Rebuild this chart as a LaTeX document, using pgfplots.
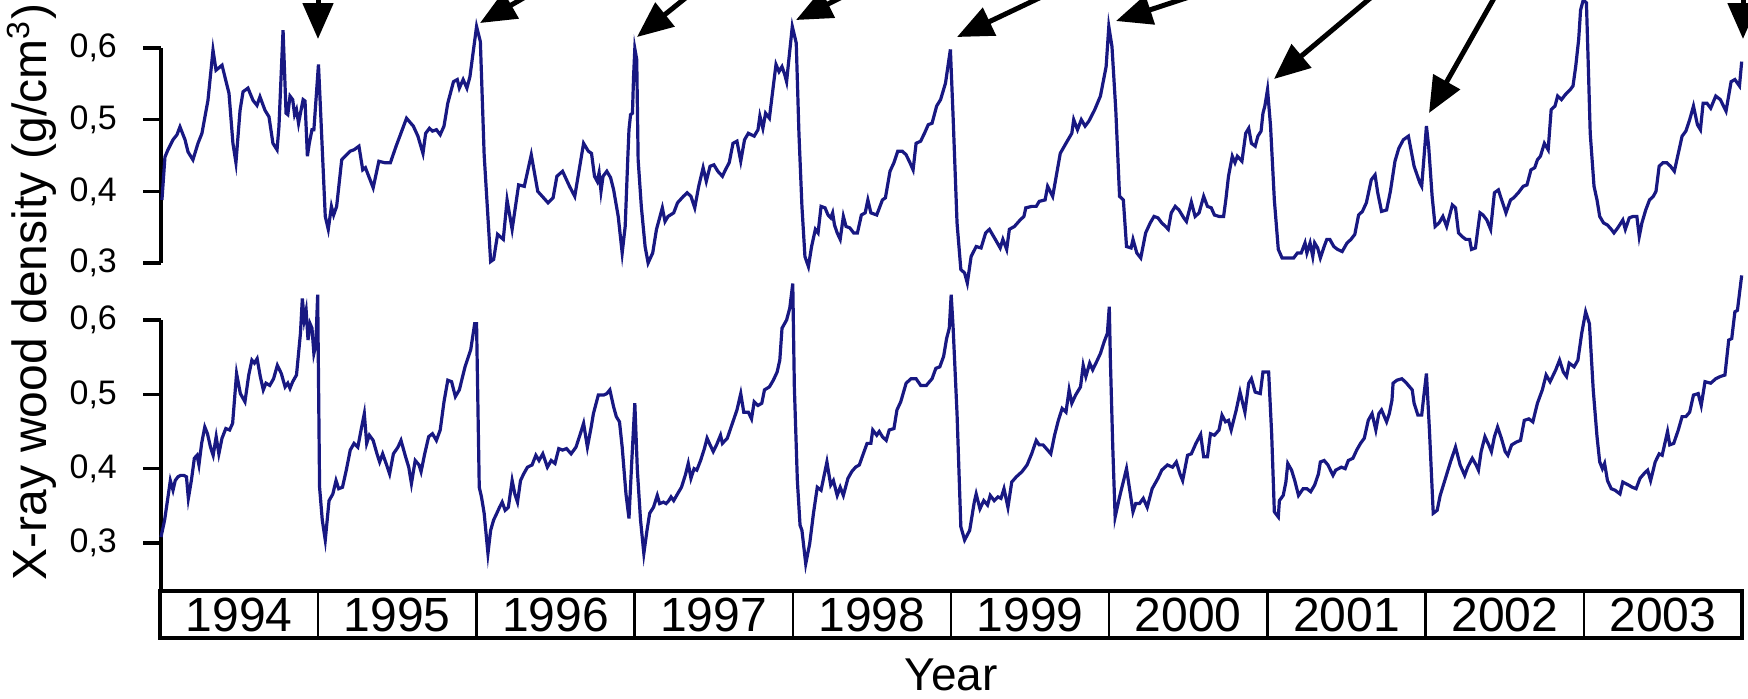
\documentclass[border=0pt]{standalone}
\usepackage{pgfplots}
\pgfplotsset{compat=1.18}
\usepackage{pgfplotstable}
\usepackage{fontspec}
\setmainfont{Liberation Sans}
\usetikzlibrary{arrows.meta}
\definecolor{navy}{RGB}{24,24,130}

\pgfplotstableread{
x y
1994.006 0.388
1994.025 0.448
1994.044 0.458
1994.076 0.472
1994.101 0.479
1994.120 0.490
1994.152 0.472
1994.171 0.455
1994.202 0.444
1994.234 0.467
1994.259 0.481
1994.297 0.527
1994.329 0.597
1994.348 0.569
1994.386 0.576
1994.430 0.537
1994.455 0.467
1994.474 0.440
1994.500 0.513
1994.519 0.539
1994.550 0.544
1994.582 0.527
1994.607 0.520
1994.626 0.532
1994.658 0.513
1994.683 0.504
1994.708 0.467
1994.734 0.458
1994.746 0.490
1994.772 0.625
1994.791 0.509
1994.802 0.507
1994.816 0.533
1994.833 0.528
1994.845 0.507
1994.857 0.514
1994.870 0.495
1994.882 0.509
1994.899 0.528
1994.911 0.526
1994.926 0.449
1994.938 0.467
1994.955 0.486
1994.967 0.486
1994.996 0.577
1995.010 0.509
1995.039 0.365
1995.058 0.347
1995.078 0.379
1995.092 0.367
1995.111 0.379
1995.143 0.444
1995.165 0.449
1995.196 0.456
1995.221 0.458
1995.252 0.463
1995.276 0.430
1995.293 0.433
1995.342 0.405
1995.378 0.442
1995.414 0.440
1995.451 0.440
1995.487 0.463
1995.553 0.502
1995.596 0.491
1995.625 0.477
1995.657 0.453
1995.674 0.481
1995.698 0.488
1995.717 0.484
1995.742 0.486
1995.766 0.479
1995.790 0.491
1995.814 0.523
1995.850 0.553
1995.874 0.556
1995.887 0.544
1995.911 0.556
1995.935 0.544
1995.954 0.560
1995.996 0.630
1996.020 0.609
1996.044 0.451
1996.085 0.302
1996.104 0.305
1996.129 0.340
1996.165 0.333
1996.189 0.388
1996.221 0.347
1996.262 0.409
1996.298 0.407
1996.342 0.451
1996.383 0.400
1996.448 0.384
1996.480 0.391
1996.504 0.421
1996.540 0.428
1996.584 0.407
1996.617 0.393
1996.673 0.467
1996.703 0.456
1996.723 0.453
1996.742 0.421
1996.759 0.414
1996.771 0.426
1996.783 0.400
1996.796 0.421
1996.820 0.428
1996.844 0.419
1996.863 0.402
1996.892 0.365
1996.917 0.314
1996.936 0.351
1996.953 0.449
1996.960 0.486
1996.970 0.507
1996.982 0.509
1996.989 0.560
1996.997 0.599
1997.009 0.584
1997.018 0.444
1997.038 0.379
1997.062 0.323
1997.081 0.300
1997.110 0.314
1997.134 0.347
1997.171 0.377
1997.188 0.358
1997.207 0.365
1997.243 0.370
1997.267 0.384
1997.304 0.393
1997.328 0.398
1997.352 0.393
1997.376 0.377
1997.401 0.407
1997.429 0.433
1997.449 0.414
1997.473 0.435
1997.497 0.437
1997.522 0.428
1997.551 0.421
1997.570 0.430
1997.594 0.440
1997.618 0.467
1997.643 0.470
1997.667 0.442
1997.691 0.472
1997.715 0.481
1997.752 0.477
1997.776 0.486
1997.788 0.505
1997.807 0.488
1997.824 0.509
1997.848 0.502
1997.873 0.547
1997.890 0.577
1997.909 0.567
1997.928 0.574
1997.945 0.563
1997.957 0.553
1997.969 0.579
1997.993 0.630
1998.018 0.607
1998.035 0.481
1998.054 0.379
1998.073 0.309
1998.095 0.295
1998.115 0.323
1998.139 0.347
1998.156 0.342
1998.175 0.379
1998.200 0.377
1998.219 0.367
1998.236 0.363
1998.248 0.370
1998.260 0.353
1998.277 0.342
1998.296 0.333
1998.316 0.365
1998.333 0.351
1998.357 0.349
1998.381 0.342
1998.405 0.342
1998.430 0.367
1998.454 0.370
1998.471 0.388
1998.490 0.370
1998.527 0.367
1998.563 0.388
1998.582 0.391
1998.611 0.428
1998.636 0.440
1998.660 0.456
1998.689 0.456
1998.713 0.451
1998.737 0.440
1998.757 0.430
1998.776 0.467
1998.805 0.470
1998.829 0.481
1998.853 0.493
1998.877 0.495
1998.906 0.519
1998.931 0.528
1998.962 0.551
1998.993 0.598
1999.010 0.505
1999.035 0.356
1999.059 0.291
1999.083 0.286
1999.100 0.272
1999.124 0.309
1999.156 0.323
1999.187 0.321
1999.216 0.342
1999.240 0.347
1999.277 0.333
1999.308 0.321
1999.325 0.333
1999.349 0.319
1999.366 0.347
1999.398 0.351
1999.434 0.360
1999.458 0.365
1999.470 0.377
1999.507 0.379
1999.536 0.379
1999.555 0.386
1999.592 0.388
1999.608 0.407
1999.640 0.393
1999.688 0.453
1999.724 0.467
1999.761 0.481
1999.773 0.500
1999.797 0.486
1999.821 0.500
1999.845 0.491
1999.869 0.498
1999.906 0.514
1999.942 0.533
1999.978 0.574
1999.995 0.630
2000.015 0.602
2000.039 0.514
2000.063 0.393
2000.087 0.388
2000.107 0.323
2000.136 0.321
2000.148 0.333
2000.172 0.314
2000.197 0.307
2000.228 0.342
2000.257 0.356
2000.281 0.365
2000.306 0.363
2000.330 0.356
2000.354 0.351
2000.371 0.347
2000.390 0.370
2000.415 0.379
2000.439 0.374
2000.469 0.363
2000.486 0.358
2000.517 0.385
2000.541 0.365
2000.566 0.370
2000.595 0.393
2000.619 0.379
2000.643 0.377
2000.663 0.367
2000.692 0.365
2000.721 0.365
2000.735 0.388
2000.752 0.421
2000.776 0.449
2000.793 0.440
2000.808 0.449
2000.837 0.442
2000.861 0.481
2000.880 0.488
2000.897 0.467
2000.921 0.463
2000.938 0.477
2000.958 0.484
2000.970 0.509
2000.982 0.519
2000.999 0.542
2001.018 0.491
2001.042 0.388
2001.067 0.319
2001.091 0.307
2001.127 0.307
2001.164 0.307
2001.188 0.314
2001.212 0.314
2001.236 0.328
2001.248 0.314
2001.268 0.328
2001.285 0.309
2001.297 0.328
2001.316 0.321
2001.333 0.307
2001.357 0.323
2001.374 0.333
2001.393 0.333
2001.418 0.323
2001.442 0.319
2001.471 0.316
2001.502 0.328
2001.527 0.333
2001.551 0.340
2001.575 0.367
2001.599 0.372
2001.624 0.384
2001.655 0.416
2001.679 0.423
2001.696 0.398
2001.720 0.372
2001.752 0.374
2001.776 0.400
2001.805 0.442
2001.829 0.460
2001.858 0.472
2001.890 0.477
2001.926 0.435
2001.962 0.412
2001.974 0.407
2001.994 0.463
2002.004 0.491
2002.018 0.463
2002.040 0.393
2002.059 0.351
2002.084 0.356
2002.108 0.365
2002.132 0.351
2002.168 0.381
2002.188 0.377
2002.207 0.342
2002.229 0.337
2002.253 0.333
2002.277 0.333
2002.289 0.319
2002.314 0.321
2002.326 0.342
2002.343 0.370
2002.362 0.367
2002.386 0.360
2002.410 0.347
2002.434 0.398
2002.459 0.402
2002.483 0.386
2002.507 0.370
2002.536 0.388
2002.556 0.391
2002.585 0.398
2002.616 0.407
2002.640 0.409
2002.665 0.430
2002.689 0.433
2002.706 0.444
2002.725 0.449
2002.750 0.467
2002.774 0.458
2002.793 0.514
2002.817 0.519
2002.834 0.533
2002.858 0.528
2002.883 0.535
2002.914 0.542
2002.931 0.547
2002.948 0.574
2002.967 0.612
2002.979 0.653
2002.996 0.667
2003.016 0.663
2003.028 0.574
2003.040 0.481
2003.064 0.407
2003.083 0.388
2003.100 0.365
2003.124 0.356
2003.149 0.353
2003.173 0.347
2003.190 0.342
2003.214 0.349
2003.246 0.360
2003.262 0.347
2003.287 0.363
2003.311 0.365
2003.335 0.365
2003.350 0.337
2003.367 0.356
2003.391 0.374
2003.415 0.388
2003.439 0.393
2003.456 0.400
2003.476 0.435
2003.500 0.440
2003.524 0.440
2003.548 0.435
2003.572 0.428
2003.597 0.453
2003.621 0.477
2003.645 0.484
2003.669 0.500
2003.693 0.519
2003.718 0.493
2003.737 0.486
2003.754 0.523
2003.778 0.523
2003.802 0.516
2003.834 0.533
2003.863 0.528
2003.899 0.512
2003.931 0.553
2003.955 0.556
2003.984 0.547
2003.998 0.581
}\upperdata

\pgfplotstableread{
x y
1994.000 0.308
1994.023 0.331
1994.047 0.366
1994.059 0.384
1994.076 0.371
1994.090 0.384
1994.107 0.389
1994.124 0.391
1994.144 0.391
1994.161 0.389
1994.173 0.360
1994.192 0.384
1994.211 0.414
1994.228 0.418
1994.240 0.405
1994.257 0.434
1994.277 0.456
1994.294 0.447
1994.313 0.429
1994.330 0.418
1994.349 0.443
1994.366 0.420
1994.386 0.441
1994.410 0.454
1994.434 0.452
1994.453 0.461
1994.478 0.528
1994.502 0.501
1994.531 0.490
1994.555 0.526
1994.575 0.546
1994.591 0.542
1994.608 0.548
1994.628 0.524
1994.647 0.506
1994.664 0.515
1994.688 0.512
1994.712 0.521
1994.736 0.539
1994.761 0.528
1994.785 0.510
1994.802 0.515
1994.816 0.508
1994.833 0.517
1994.857 0.526
1994.882 0.582
1994.894 0.629
1994.906 0.600
1994.918 0.613
1994.930 0.573
1994.943 0.595
1994.955 0.589
1994.967 0.555
1994.979 0.566
1994.991 0.634
1995.003 0.375
1995.020 0.331
1995.039 0.304
1995.063 0.357
1995.087 0.366
1995.107 0.384
1995.124 0.373
1995.148 0.375
1995.172 0.398
1995.197 0.425
1995.221 0.434
1995.245 0.429
1995.269 0.456
1995.286 0.474
1995.301 0.434
1995.318 0.445
1995.342 0.438
1995.366 0.420
1995.383 0.409
1995.402 0.420
1995.427 0.405
1995.446 0.393
1995.470 0.420
1995.499 0.429
1995.518 0.438
1995.547 0.416
1995.567 0.402
1995.584 0.380
1995.608 0.411
1995.632 0.405
1995.645 0.396
1995.668 0.420
1995.693 0.443
1995.717 0.447
1995.742 0.438
1995.766 0.452
1995.790 0.490
1995.814 0.519
1995.838 0.517
1995.862 0.497
1995.887 0.506
1995.923 0.537
1995.959 0.560
1995.984 0.595
1995.996 0.595
1996.013 0.375
1996.027 0.362
1996.044 0.340
1996.068 0.286
1996.085 0.317
1996.104 0.331
1996.124 0.340
1996.141 0.348
1996.158 0.355
1996.177 0.344
1996.197 0.348
1996.221 0.384
1996.238 0.366
1996.255 0.355
1996.274 0.384
1996.294 0.393
1996.318 0.402
1996.347 0.405
1996.371 0.418
1996.391 0.411
1996.415 0.420
1996.444 0.402
1996.468 0.411
1996.492 0.407
1996.516 0.427
1996.540 0.425
1996.565 0.427
1996.594 0.420
1996.625 0.429
1996.657 0.450
1996.673 0.461
1996.697 0.429
1996.721 0.456
1996.735 0.474
1996.766 0.499
1996.800 0.499
1996.820 0.501
1996.839 0.506
1996.863 0.483
1996.880 0.470
1996.900 0.463
1996.917 0.429
1996.941 0.366
1996.960 0.333
1996.977 0.407
1996.997 0.488
1997.013 0.398
1997.033 0.331
1997.054 0.286
1997.074 0.317
1997.091 0.340
1997.115 0.348
1997.139 0.364
1997.154 0.353
1997.178 0.355
1997.195 0.353
1997.212 0.357
1997.226 0.362
1997.243 0.357
1997.267 0.366
1997.292 0.375
1997.316 0.391
1997.335 0.407
1997.352 0.387
1997.372 0.400
1997.389 0.398
1997.413 0.411
1997.437 0.427
1997.454 0.441
1997.473 0.432
1997.493 0.423
1997.514 0.432
1997.539 0.445
1997.551 0.434
1997.582 0.441
1997.606 0.456
1997.643 0.479
1997.667 0.501
1997.686 0.476
1997.715 0.476
1997.735 0.467
1997.752 0.490
1997.776 0.485
1997.800 0.488
1997.817 0.506
1997.848 0.510
1997.873 0.519
1997.897 0.530
1997.914 0.546
1997.928 0.589
1997.957 0.600
1997.977 0.616
1997.996 0.649
1998.006 0.510
1998.025 0.384
1998.042 0.324
1998.054 0.317
1998.078 0.272
1998.103 0.299
1998.127 0.340
1998.151 0.375
1998.175 0.371
1998.212 0.409
1998.236 0.378
1998.253 0.384
1998.277 0.364
1998.296 0.375
1998.316 0.364
1998.345 0.387
1998.369 0.396
1998.393 0.402
1998.417 0.405
1998.442 0.420
1998.466 0.434
1998.490 0.434
1998.502 0.452
1998.527 0.445
1998.543 0.450
1998.563 0.443
1998.587 0.438
1998.606 0.452
1998.636 0.454
1998.655 0.479
1998.679 0.490
1998.713 0.515
1998.744 0.521
1998.776 0.521
1998.805 0.512
1998.841 0.512
1998.877 0.521
1998.901 0.535
1998.926 0.537
1998.950 0.551
1998.969 0.575
1998.986 0.589
1998.998 0.634
1999.010 0.591
1999.035 0.474
1999.059 0.322
1999.083 0.304
1999.115 0.317
1999.144 0.355
1999.156 0.366
1999.180 0.346
1999.204 0.357
1999.228 0.351
1999.245 0.364
1999.270 0.357
1999.294 0.362
1999.313 0.360
1999.332 0.373
1999.357 0.348
1999.381 0.382
1999.410 0.389
1999.446 0.396
1999.478 0.405
1999.507 0.420
1999.536 0.438
1999.555 0.432
1999.579 0.432
1999.608 0.425
1999.628 0.420
1999.652 0.445
1999.676 0.465
1999.700 0.481
1999.724 0.476
1999.744 0.506
1999.761 0.488
1999.785 0.499
1999.816 0.510
1999.833 0.539
1999.850 0.524
1999.874 0.542
1999.893 0.533
1999.918 0.544
1999.942 0.555
1999.966 0.571
1999.986 0.582
1999.998 0.618
2000.005 0.546
2000.020 0.429
2000.035 0.335
2000.063 0.362
2000.107 0.400
2000.148 0.342
2000.165 0.353
2000.189 0.353
2000.213 0.360
2000.238 0.348
2000.269 0.373
2000.306 0.387
2000.330 0.398
2000.366 0.405
2000.398 0.402
2000.422 0.409
2000.445 0.393
2000.462 0.384
2000.493 0.418
2000.517 0.420
2000.546 0.434
2000.576 0.446
2000.595 0.416
2000.619 0.416
2000.638 0.447
2000.663 0.445
2000.692 0.452
2000.711 0.472
2000.733 0.463
2000.752 0.465
2000.769 0.452
2000.801 0.479
2000.825 0.503
2000.856 0.476
2000.880 0.515
2000.897 0.521
2000.921 0.503
2000.953 0.501
2000.970 0.530
2001.006 0.530
2001.025 0.447
2001.042 0.342
2001.067 0.335
2001.074 0.357
2001.098 0.364
2001.115 0.382
2001.127 0.407
2001.151 0.398
2001.171 0.384
2001.195 0.364
2001.224 0.373
2001.248 0.373
2001.272 0.369
2001.297 0.378
2001.321 0.393
2001.333 0.409
2001.357 0.411
2001.381 0.405
2001.413 0.391
2001.430 0.398
2001.466 0.402
2001.490 0.400
2001.510 0.411
2001.539 0.414
2001.563 0.425
2001.587 0.434
2001.611 0.441
2001.636 0.465
2001.660 0.474
2001.684 0.452
2001.703 0.474
2001.720 0.479
2001.752 0.463
2001.769 0.474
2001.786 0.492
2001.793 0.515
2001.817 0.519
2001.849 0.521
2001.878 0.515
2001.914 0.506
2001.926 0.488
2001.950 0.472
2001.974 0.472
2001.987 0.497
2002.004 0.528
2002.023 0.452
2002.047 0.340
2002.072 0.344
2002.091 0.364
2002.120 0.384
2002.156 0.409
2002.188 0.429
2002.217 0.405
2002.246 0.391
2002.265 0.402
2002.294 0.414
2002.318 0.405
2002.333 0.398
2002.350 0.423
2002.374 0.443
2002.398 0.432
2002.415 0.423
2002.434 0.443
2002.454 0.456
2002.478 0.441
2002.502 0.423
2002.519 0.418
2002.543 0.432
2002.575 0.436
2002.599 0.438
2002.623 0.465
2002.652 0.467
2002.677 0.463
2002.706 0.488
2002.737 0.506
2002.761 0.526
2002.786 0.517
2002.822 0.533
2002.846 0.546
2002.870 0.530
2002.890 0.524
2002.907 0.542
2002.938 0.537
2002.962 0.546
2002.986 0.582
2003.011 0.611
2003.035 0.595
2003.059 0.506
2003.083 0.443
2003.100 0.409
2003.117 0.400
2003.131 0.407
2003.149 0.384
2003.173 0.373
2003.197 0.371
2003.228 0.366
2003.246 0.382
2003.282 0.378
2003.306 0.375
2003.330 0.373
2003.355 0.387
2003.379 0.393
2003.403 0.398
2003.422 0.384
2003.451 0.409
2003.476 0.420
2003.495 0.418
2003.529 0.450
2003.543 0.432
2003.568 0.434
2003.597 0.452
2003.621 0.470
2003.645 0.470
2003.669 0.476
2003.693 0.499
2003.723 0.501
2003.742 0.485
2003.766 0.517
2003.802 0.515
2003.834 0.521
2003.863 0.524
2003.892 0.526
2003.916 0.573
2003.935 0.575
2003.955 0.611
2003.971 0.613
2003.998 0.660
}\lowerdata

\pgfplotsset{
  panel/.style={
    scale only axis, width=395.25pt,
    xmin=1994, xmax=2004,
    axis x line=none, axis y line=left,
    axis line style={-, line width=0.8pt, black},
    clip=false,
    ytick={0.3,0.4,0.5,0.6},
    tick align=outside, major tick length=4.5pt,
    tick style={line width=0.8pt, black},
    yticklabel style={font=\fontsize{8.5}{10}\selectfont, xshift=-3pt,
      /pgf/number format/.cd, fixed, fixed zerofill, precision=1, use comma, assume math mode=true},
  },
}

\newcommand\arr[4]{%
  \draw[black, line width=1.25pt, -{Triangle[length=9pt,width=7.5pt]}]
    ({(#1+2*#3)*0.25pt},{-(#2-2*#4)*0.25pt}) -- ({#1*0.25pt},{-#2*0.25pt});}

\begin{document}
\begin{tikzpicture}
\useasboundingbox (0pt,0pt) rectangle (437pt,-174.5pt);

% upper panel
\begin{axis}[panel, at={(40.25pt,-65.75pt)}, anchor=south west,
  height=53.75pt, ymin=0.3, ymax=0.6]
\addplot[navy, line width=0.8pt] table[x=x, y=y] {\upperdata};
\end{axis}

% lower panel
\begin{axis}[panel, at={(40.25pt,-147.75pt)}, anchor=south west,
  height=67.75pt, ymin=0.2354, ymax=0.6]
\addplot[navy, line width=0.8pt] table[x=x, y=y] {\lowerdata};
\end{axis}

% year box
\begin{axis}[scale only axis, at={(40pt,-159.5pt)}, anchor=south west,
  width=395.5pt, height=11.75pt,
  xmin=1994, xmax=2004, ymin=0, ymax=1,
  xtick={1995,1996,1997,1998,1999,2000,2001,2002,2003}, xticklabels={},
  ytick=\empty, major tick length=0pt,
  xmajorgrids, major grid style={black, line width=0.6pt},
  axis line style={line width=0.8pt, black}]
\draw[black, line width=1.2pt] (rel axis cs:0,0) -- (rel axis cs:1,0);
\node[font=\fontsize{12}{14}\selectfont] at (axis cs:1994.5,0.5) {1994};
\node[font=\fontsize{12}{14}\selectfont] at (axis cs:1995.5,0.5) {1995};
\node[font=\fontsize{12}{14}\selectfont] at (axis cs:1996.5,0.5) {1996};
\node[font=\fontsize{12}{14}\selectfont] at (axis cs:1997.5,0.5) {1997};
\node[font=\fontsize{12}{14}\selectfont] at (axis cs:1998.5,0.5) {1998};
\node[font=\fontsize{12}{14}\selectfont] at (axis cs:1999.5,0.5) {1999};
\node[font=\fontsize{12}{14}\selectfont] at (axis cs:2000.5,0.5) {2000};
\node[font=\fontsize{12}{14}\selectfont] at (axis cs:2001.5,0.5) {2001};
\node[font=\fontsize{12}{14}\selectfont] at (axis cs:2002.5,0.5) {2002};
\node[font=\fontsize{12}{14}\selectfont] at (axis cs:2003.5,0.5) {2003};
\end{axis}

% axis titles
\node[anchor=base, font=\fontsize{11.5}{13}\selectfont] at (237.75pt,-172.5pt) {Year};
\node[rotate=90, anchor=base, font=\fontsize{12}{14}\selectfont] at (11.75pt,-73pt)
  {X-ray wood density (g/cm\textsuperscript{3})};

% arrows
\begin{scope}
\clip (0pt,0pt) rectangle (437pt,-174.5pt);
\arr{318}{39}{0}{39}
\arr{480}{23}{40}{23}
\arr{637}{37}{46}{37}
\arr{796}{20}{40}{20}
\arr{957}{37}{78}{37}
\arr{1116}{21}{64}{21}
\arr{1274}{79}{94}{79}
\arr{1429}{113}{64}{113}
\arr{1743}{39}{0}{39}
\end{scope}
\end{tikzpicture}
\end{document}
